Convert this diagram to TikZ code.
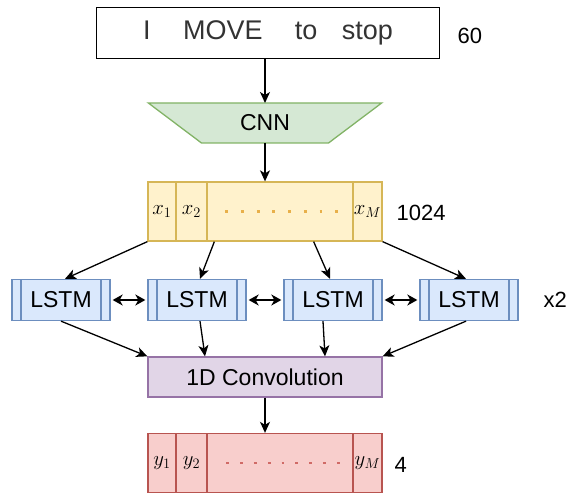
\documentclass[tikz,border=0pt]{standalone}
\usepackage{fontspec}
\setsansfont{Liberation Sans}
\usetikzlibrary{arrows.meta,shapes.geometric}
\definecolor{cnnfill}{HTML}{D5E8D4}
\definecolor{cnndraw}{HTML}{82B366}
\definecolor{xfill}{HTML}{FFF2CC}
\definecolor{xdraw}{HTML}{D6B656}
\definecolor{xdot}{HTML}{E8B04A}
\definecolor{lstmfill}{HTML}{DAE8FC}
\definecolor{lstmdraw}{HTML}{6C8EBF}
\definecolor{convfill}{HTML}{E1D5E7}
\definecolor{convdraw}{HTML}{9673A6}
\definecolor{yfill}{HTML}{F8CECC}
\definecolor{ydraw}{HTML}{B85450}
\definecolor{ydot}{HTML}{D06A66}
\begin{document}
\begin{tikzpicture}
[ x=1pt, y=-1pt, line width=1.3pt, font=\sffamily\fontsize{23}{26}\selectfont
, image/.style={rectangle, draw, line width=1.4pt, minimum width=343pt, minimum height=51pt, inner sep=0pt}
, cnn/.style={trapezium, draw=cnndraw, fill=cnnfill, trapezium stretches=true, shape border rotate=180, trapezium left angle=38, trapezium right angle=38, minimum width=234pt, minimum height=40pt, inner sep=0pt}
, cell/.style={rectangle, draw, inner sep=0pt, minimum height=59pt, font=\fontsize{21}{24}\selectfont}
, xcell/.style={cell, draw=xdraw, fill=xfill}
, ycell/.style={cell, draw=ydraw, fill=yfill}
, lstm/.style={rectangle, draw=lstmdraw, fill=lstmfill, minimum width=98pt, minimum height=41pt, inner sep=0pt, path picture={
    \draw[lstmdraw, line width=1.1pt]
      ([xshift=9pt]path picture bounding box.south west) -- ([xshift=9pt]path picture bounding box.north west)
      ([xshift=-9pt]path picture bounding box.south east) -- ([xshift=-9pt]path picture bounding box.north east);}}
, conv/.style={rectangle, draw=convdraw, fill=convfill, minimum width=234pt, minimum height=40pt, inner sep=0pt}
, size/.style={anchor=west, inner sep=0pt, font=\sffamily\fontsize{22}{24}\selectfont}
, arrow/.style={-{Stealth[length=11pt,width=10pt,inset=3pt]}}
, biarrow/.style={{Stealth[length=10pt,width=11pt,inset=3pt]}-{Stealth[length=10pt,width=11pt,inset=3pt]}, line width=1.6pt, shorten <=2pt, shorten >=2pt}
]
\useasboundingbox (0,0) rectangle (568,494);

% Input line image
\node (img) [image] at (268,33) {\fontsize{27}{28}\selectfont\color{black!80}I\hspace{1.2em}MOVE\hspace{1.2em}to\hspace{0.9em}stop};
\node (n60) [size] at (457,36) {60};

% CNN
\node (cnn) [cnn] at (265,123) {CNN};

% Feature sequence
\node (x1) [xcell, minimum width=28pt] at (162,211.5) {$x_1$};
\node (x2) [xcell, minimum width=31pt] at (191.5,211.5) {$x_2$};
\node (xmid) [xcell, minimum width=146pt] at (280,211.5) {};
\node (xM) [xcell, minimum width=29pt] at (367.5,211.5) {$x_M$};
\node (n1024) [size] at (396,213) {1024};
\draw [xdot, line width=2.8pt, dash pattern=on 2.8pt off 12.9pt] ([xshift=19pt]xmid.west) -- ([xshift=-12pt]xmid.east);

% Bidirectional LSTM layer
\node (lstm1) [lstm] at (61,300) {LSTM};
\node (lstm2) [lstm] at (197,300) {LSTM};
\node (lstm3) [lstm] at (333,300) {LSTM};
\node (lstm4) [lstm] at (469,300) {LSTM};
\node (times) [size] at (543,300) {x2};

% 1D convolution
\node (conv) [conv] at (265,377) {1D Convolution};

% Output sequence
\node (y1) [ycell, minimum width=28pt] at (162,463) {$y_1$};
\node (y2) [ycell, minimum width=31pt] at (191.5,463) {$y_2$};
\node (ymid) [ycell, minimum width=146pt] at (280,463) {};
\node (yM) [ycell, minimum width=29pt] at (367.5,463) {$y_M$};
\node (n4) [size] at (394,465) {4};
\draw [ydot, line width=2.8pt, dash pattern=on 2.8pt off 11pt] ([xshift=20pt]ymid.west) -- ([xshift=-12pt]ymid.east);

% Connectors
\draw [arrow] (img.south -| cnn.center) -- ([yshift=20pt]cnn.center);
\draw [arrow] ([yshift=-20pt]cnn.center) -- (xmid.north -| cnn.center);
\draw [arrow] (x1.south west) -- ([xshift=4pt]lstm1.north);
\draw [arrow] ([xshift=8pt]xmid.south west) -- ([xshift=3pt]lstm2.north);
\draw [arrow] ([xshift=-40pt]xmid.south east) -- ([xshift=-3pt]lstm3.north);
\draw [arrow] (xM.south east) -- ([xshift=-3pt]lstm4.north);
\draw [biarrow] (lstm1) -- (lstm2);
\draw [biarrow] (lstm2) -- (lstm3);
\draw [biarrow] (lstm3) -- (lstm4);
\draw [arrow] (lstm1.south) -- (conv.north west);
\draw [arrow] ([xshift=3pt]lstm2.south) -- ([xshift=-60pt]conv.north);
\draw [arrow] ([xshift=-10pt]lstm3.south) -- ([xshift=60pt]conv.north);
\draw [arrow] ([xshift=-3pt]lstm4.south) -- (conv.north east);
\draw [arrow] (conv.south) -- (ymid.north -| conv.south);
\end{tikzpicture}
\end{document}
